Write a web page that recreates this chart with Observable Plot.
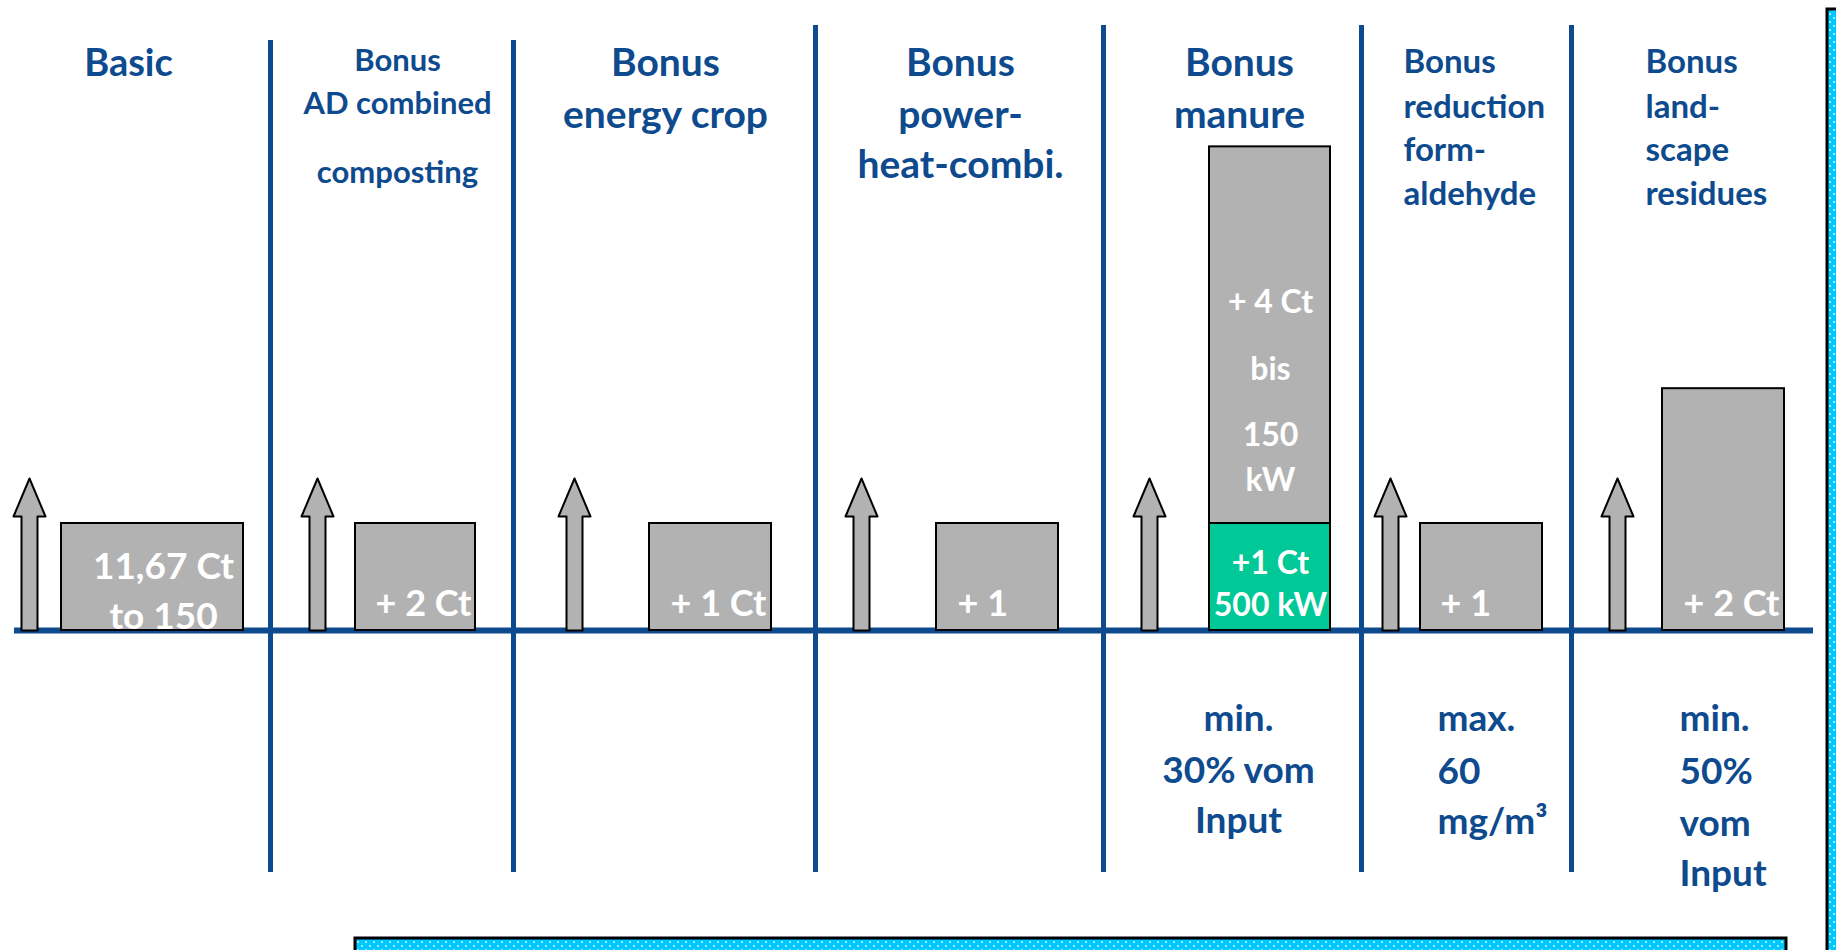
<!DOCTYPE html>
<html>
<head>
<meta charset="utf-8">
<script src="https://cdn.jsdelivr.net/npm/d3@7"></script>
<script src="https://cdn.jsdelivr.net/npm/@observablehq/plot@0.6"></script>
<style>
html, body { margin: 0; padding: 0; background: #fff; }
#chart svg { display: block; overflow: hidden; }
</style>
</head>
<body>
<div id="chart"></div>
<script>
// ---------------- data ----------------
const categories = ["Basic", "AD combined composting", "energy crop", "power-heat-combi.", "manure", "reduction formaldehyde", "landscape residues"];
const headerLines = [
  ["Basic"],
  ["Bonus", "AD combined", "composting"],
  ["Bonus", "energy crop"],
  ["Bonus", "power-", "heat-combi."],
  ["Bonus", "manure"],
  ["Bonus", "reduction", "form-", "aldehyde"],
  ["Bonus", "land-", "scape", "residues"]
];
// schematic bar heights (in "base bar" units)
const barHeights = [1, 1, 1, 1, 1, 1, 2.26];
const manureExtra = 3.52;             // grey segment stacked on the manure bar
const barLabels = [["11,67 Ct", "to 150"], ["+ 2 Ct"], ["+ 1 Ct"], ["+ 1"], ["+1 Ct", "500 kW"], ["+ 1"], ["+ 2 Ct"]];
const manureExtraLabels = ["+ 4 Ct", "bis", "150", "kW"];
const conditionNotes = [[], [], [], [], ["min.", "30% vom", "Input"], ["max.", "60", "mg/m³"], ["min.", "50%", "vom", "Input"]];

// ---------------- layout (pixels) ----------------
const W = 1836, H = 950, BASE = 630, UNIT = 107;
const py = p => (BASE - p) / UNIT;              // pixel row -> y units
const BLUE = "#0e4a8e", GREY = "#b2b2b2", GREEN = "#00c896", CYAN = "#00c8ff";
const dividerX = [270, 513, 815, 1103, 1361, 1571];
const dividerTop = [40, 40, 25, 25, 25, 25];
const dividerBottom = 872;
const barX = [[61, 243], [355, 475], [649, 771], [936, 1058], [1209, 1330], [1420, 1542], [1662, 1784]];
const arrowX = [29, 317, 574, 861, 1149, 1390, 1617];
const headerLayout = [
  {x: 128, anchor: "middle", size: 38, ys: [75]},
  {x: 397, anchor: "middle", size: 31, ys: [70, 113, 182]},
  {x: 665, anchor: "middle", size: 39, ys: [75, 127]},
  {x: 960, anchor: "middle", size: 39, ys: [75, 127, 177]},
  {x: 1239, anchor: "middle", size: 39, ys: [75, 127]},
  {x: 1403, anchor: "start", size: 33, ys: [72, 117, 160, 204]},
  {x: 1645, anchor: "start", size: 33, ys: [72, 117, 160, 204]}
];
const labelLayout = [
  {x: 163, anchor: "middle", size: 37, ys: [578, 628]},
  {x: 375, anchor: "start", size: 36, ys: [615]},
  {x: 670, anchor: "start", size: 36, ys: [615]},
  {x: 957, anchor: "start", size: 36, ys: [615]},
  {x: 1270, anchor: "middle", size: 32, ys: [573, 615]},
  {x: 1440, anchor: "start", size: 36, ys: [615]},
  {x: 1683, anchor: "start", size: 36, ys: [615]}
];
const manureExtraYs = [312, 379, 445, 490];
const noteLayout = [null, null, null, null,
  {x: 1238, anchor: "middle", ys: [730, 782, 832]},
  {x: 1437, anchor: "start", ys: [730, 783, 833]},
  {x: 1679, anchor: "start", ys: [730, 783, 835, 885]}
];

// ---------------- build mark tables ----------------
const bars = categories.map((c, i) => ({cat: c, x1: barX[i][0], x2: barX[i][1], y1: 0, y2: barHeights[i],
  fill: c === "manure" ? GREEN : GREY}));
bars.push({cat: "manure", x1: barX[4][0], x2: barX[4][1], y1: barHeights[4], y2: barHeights[4] + manureExtra, fill: GREY});

const arrows = [];
arrowX.forEach((c, i) => {
  const tip = py(478), hb = py(516), s = 8, h = 16;
  [[c - s, 0], [c - s, hb], [c - h, hb], [c, tip], [c + h, hb], [c + s, hb], [c + s, 0], [c - s, 0]]
    .forEach(([x, y]) => arrows.push({id: i, x, y}));
});

const dividers = dividerX.map((x, i) => ({x, y1: py(dividerTop[i]), y2: py(dividerBottom)}));

const texts = [];
headerLines.forEach((lines, i) => lines.forEach((t, j) => texts.push({
  text: t, x: headerLayout[i].x, y: py(headerLayout[i].ys[j]), anchor: headerLayout[i].anchor,
  size: headerLayout[i].size, color: BLUE})));
barLabels.forEach((lines, i) => lines.forEach((t, j) => texts.push({
  text: t, x: labelLayout[i].x, y: py(labelLayout[i].ys[j]), anchor: labelLayout[i].anchor,
  size: labelLayout[i].size, color: "white"})));
manureExtraLabels.forEach((t, j) => texts.push({
  text: t, x: labelLayout[4].x, y: py(manureExtraYs[j]), anchor: "middle", size: 32, color: "white"}));
conditionNotes.forEach((lines, i) => lines.forEach((t, j) => texts.push({
  text: t, x: noteLayout[i].x, y: py(noteLayout[i].ys[j]), anchor: noteLayout[i].anchor,
  size: 37, color: BLUE})));

const boxes = [
  {x1: 355, x2: 1786, y1: py(938), y2: py(962)},
  {x1: 1827, x2: 1850, y1: py(9), y2: py(962)}
];

const textMark = anchor => Plot.text(texts.filter(d => d.anchor === anchor), {
  x: "x", y: "y", text: "text", fill: d => d.color, fontSize: d => d.size,
  textAnchor: anchor, lineAnchor: "bottom", fontWeight: "bold", fontFamily: "Lato"
});

const chart = Plot.plot({
  width: W, height: H, margin: 0,
  style: {fontFamily: "Lato", background: "white"},
  x: {domain: [0, W], axis: null},
  y: {domain: [py(H), py(0)], axis: null},
  color: {type: "identity"},
  marks: [
    Plot.ruleX(dividers, {x: "x", y1: "y1", y2: "y2", stroke: BLUE, strokeWidth: 5}),
    Plot.ruleY([0], {x1: 14, x2: 1813, stroke: BLUE, strokeWidth: 6}),
    Plot.line(arrows, {x: "x", y: "y", z: "id", fill: GREY, stroke: "black", strokeWidth: 2, curve: "linear"}),
    Plot.rect(bars, {x1: "x1", x2: "x2", y1: "y1", y2: "y2", fill: "fill", stroke: "black", strokeWidth: 2}),
    textMark("middle"),
    textMark("start"),
    Plot.rect(boxes, {x1: "x1", x2: "x2", y1: "y1", y2: "y2", fill: CYAN, stroke: "black", strokeWidth: 3})
  ]
});

// dotted fill pattern for the cut-off text boxes
const svg = d3.select(chart);
svg.selectAll(`[fill="${CYAN}"]`).attr("fill", "url(#dots)");
const defs = svg.insert("defs", ":first-child");
const pat = defs.append("pattern").attr("id", "dots").attr("patternUnits", "userSpaceOnUse")
  .attr("width", 8).attr("height", 8);
pat.append("rect").attr("width", 8).attr("height", 8).attr("fill", CYAN);
pat.append("circle").attr("cx", 2).attr("cy", 2).attr("r", 0.9).attr("fill", "#e8fbff");
pat.append("circle").attr("cx", 6).attr("cy", 6).attr("r", 0.9).attr("fill", "#e8fbff");

document.getElementById("chart").appendChild(chart);
</script>
</body>
</html>
